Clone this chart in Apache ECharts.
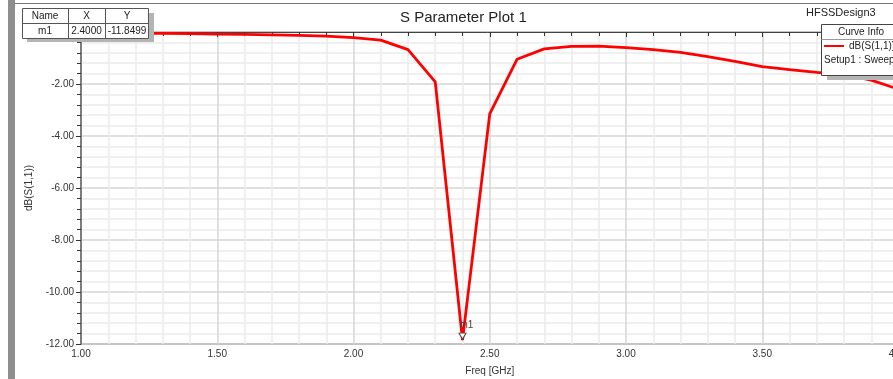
<!DOCTYPE html>
<html>
<head>
<meta charset="utf-8">
<script src="https://cdn.jsdelivr.net/npm/echarts@6/dist/echarts.min.js"></script>
<style>
  html, body {margin: 0; padding: 0; background: #fff;}
  #chart {width: 893px; height: 379px;}
</style>
</head>
<body>
<div id="chart"></div>
<script>
// sweep points, GHz
const freq = [1.0, 1.1, 1.2, 1.3, 1.4, 1.5, 1.6, 1.7, 1.8, 1.9, 2.0,
  2.1, 2.2, 2.3, 2.4, 2.5, 2.6, 2.7, 2.8, 2.9, 3.0,
  3.1, 3.2, 3.3, 3.4, 3.5, 3.6, 3.7, 3.8, 3.9, 4.0];
// dB(S(1,1))
const s11 = [-0.04, -0.04, -0.05, -0.05, -0.06, -0.08, -0.09, -0.11, -0.13, -0.16, -0.22,
  -0.31, -0.68, -1.92, -11.85, -3.15, -1.05, -0.65, -0.55, -0.54, -0.60,
  -0.68, -0.78, -0.95, -1.13, -1.33, -1.45, -1.55, -1.64, -1.85, -2.2];

const markerNames = ['m1'];
const markerX = [2.4];
const markerY = [-11.8499];

const seriesName = 'dB(S(1,1))';
const setupName = 'Setup1 : Sweep';

const FONT = '"Liberation Sans", Arial, sans-serif';

const chart = echarts.init(document.getElementById('chart'));

const txt = (x, y, t, z, align) => ({
  type: 'text', x: x, y: y, z: z,
  style: {text: t, fill: '#222', font: '10px ' + FONT, align: align || 'center', verticalAlign: 'middle'}
});
const hline = (x1, x2, y, z, c) => ({type: 'line', z: z, shape: {x1: x1, y1: y, x2: x2, y2: y}, style: {stroke: c || '#555', lineWidth: 1}});
const vline = (x, y1, y2, z, c) => ({type: 'line', z: z, shape: {x1: x, y1: y1, x2: x, y2: y2}, style: {stroke: c || '#555', lineWidth: 1}});

// marker table
const colX = [45, 86.5, 127];
const table = [
  {type: 'rect', z: 30, shape: {x: 27, y: 13, width: 127, height: 29}, style: {fill: '#b4b4b4'}},
  {type: 'rect', z: 31, shape: {x: 22.5, y: 8.5, width: 126, height: 30}, style: {fill: '#fff', stroke: '#555', lineWidth: 1}},
  hline(22.5, 148.5, 23.5, 32),
  vline(68.5, 8.5, 38.5, 32),
  vline(105.5, 8.5, 38.5, 32)
];
['Name', 'X', 'Y'].forEach((t, i) => table.push(txt(colX[i], 16, t, 33)));
markerNames.forEach((n, k) => {
  [n, markerX[k].toFixed(4), markerY[k].toFixed(4)].forEach((t, i) => table.push(txt(colX[i], 31 + k * 15, t, 33)));
});

// curve info box, under the legend
const infoBox = [
  {type: 'rect', z: 10, shape: {x: 827, y: 30, width: 80, height: 50}, style: {fill: '#b4b4b4'}},
  {type: 'rect', z: 11, shape: {x: 821.5, y: 24.5, width: 80, height: 51}, style: {fill: '#fff', stroke: '#444', lineWidth: 1}},
  hline(821.5, 901, 39.5, 12, '#999'),
  txt(861, 32.5, 'Curve Info', 12),
  txt(824, 60.5, setupName, 12, 'left')
];

chart.setOption({
  animation: false,
  title: {
    text: 'S Parameter Plot 1',
    left: 395, top: 5,
    textStyle: {fontFamily: FONT, fontSize: 15, fontWeight: 'normal', color: '#222'}
  },
  grid: {
    left: 81, top: 32, right: -5.5, bottom: 35,
    outerBoundsMode: 'none',
    containLabel: false,
    show: true, borderColor: '#222', borderWidth: 1, backgroundColor: '#fff'
  },
  legend: {
    left: 822, top: 39, z: 20, padding: 2,
    itemWidth: 20, itemHeight: 2, itemGap: 4,
    icon: 'rect',
    textStyle: {fontFamily: FONT, fontSize: 10, color: '#222'},
    data: [seriesName]
  },
  xAxis: {
    type: 'value', min: 1, max: 4, interval: 0.5,
    name: 'Freq [GHz]', nameLocation: 'middle', nameGap: 22,
    nameTextStyle: {fontFamily: FONT, fontSize: 10, color: '#333'},
    axisLine: {lineStyle: {color: '#444', width: 1}},
    axisTick: {length: 5, lineStyle: {color: '#333'}},
    minorTick: {show: true, splitNumber: 5, length: 4, lineStyle: {color: '#333'}},
    axisLabel: {fontFamily: FONT, fontSize: 10, color: '#333', margin: 5,
      formatter: v => v.toFixed(2)},
    splitLine: {lineStyle: {color: '#d6d6d6', width: 1.5}},
    minorSplitLine: {show: true, lineStyle: {color: '#ebebeb', width: 1.5}}
  },
  yAxis: {
    type: 'value', min: -12, max: 0, interval: 2,
    name: 'dB(S(1,1))', nameLocation: 'middle', nameGap: 47,
    nameTextStyle: {fontFamily: FONT, fontSize: 10, color: '#333'},
    axisLine: {show: true, lineStyle: {color: '#666', width: 1.5}},
    axisTick: {show: true, length: 5, lineStyle: {color: '#333'}},
    minorTick: {show: true, splitNumber: 5, length: 4, lineStyle: {color: '#333'}},
    axisLabel: {fontFamily: FONT, fontSize: 10, color: '#333', margin: 7,
      formatter: v => v.toFixed(2)},
    splitLine: {lineStyle: {color: '#d6d6d6', width: 1.5}},
    minorSplitLine: {show: true, lineStyle: {color: '#ebebeb', width: 1.5}}
  },
  series: [{
    name: seriesName,
    type: 'line',
    data: freq.map((f, i) => [f, s11[i]]),
    showSymbol: false,
    color: '#ff0000',
    lineStyle: {color: '#ff0000', width: 2.8},
    markPoint: {
      symbol: 'triangle',
      symbolSize: [7, 6],
      symbolRotate: 180,
      symbolOffset: [0, -4],
      itemStyle: {color: '#fff', borderColor: '#444', borderWidth: 1},
      label: {show: true, position: [1, -12], formatter: p => p.name,
        fontFamily: FONT, fontSize: 10, color: '#444'},
      data: markerNames.map((n, k) => ({name: n, coord: [markerX[k], markerY[k]]}))
    }
  }],
  graphic: [
    {type: 'rect', z: 40, shape: {x: 8, y: 0, width: 7, height: 379}, style: {fill: '#8e8e8e'}},
    hline(15, 893, 3.5, 40, '#777'),
    {type: 'text', z: 40, x: 806, y: 7,
      style: {text: 'HFSSDesign3', fill: '#222', font: '11px ' + FONT}}
  ].concat(table, infoBox)
});
</script>
</body>
</html>
